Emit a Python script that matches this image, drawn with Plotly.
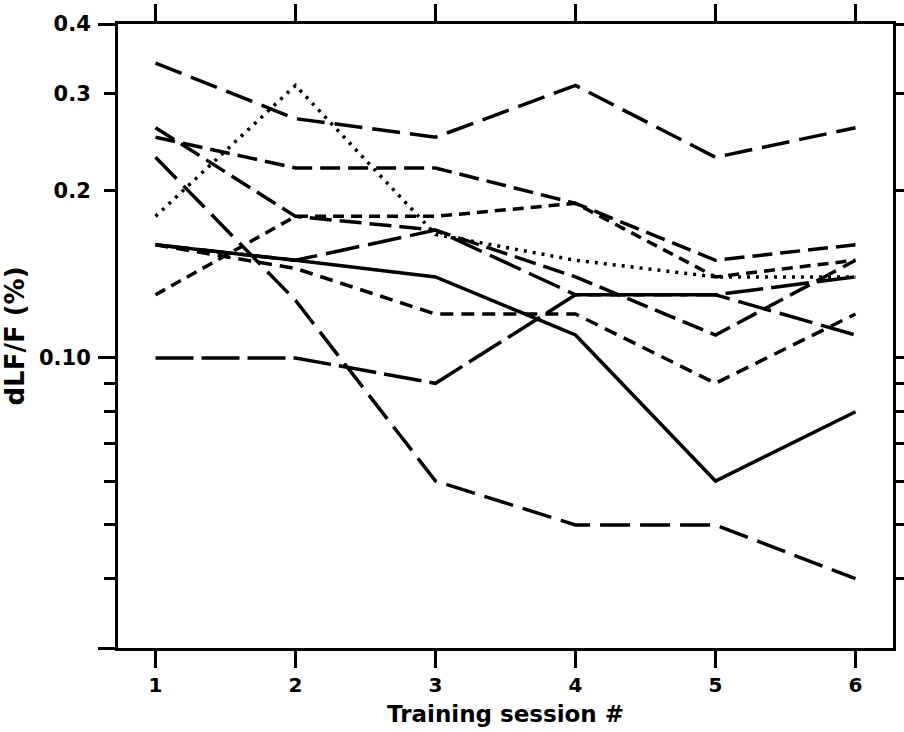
import plotly.graph_objects as go
import math

# ---- data ----
sessions = [1, 2, 3, 4, 5, 6]

subj_a = [0.34, 0.27, 0.25, 0.31, 0.23, 0.26]    # long dash, top
subj_b = [0.26, 0.18, 0.17, 0.14, 0.11, 0.15]    # dash
subj_c = [0.25, 0.22, 0.22, 0.19, 0.15, 0.16]    # medium dash
subj_d = [0.23, 0.127, 0.06, 0.05, 0.05, 0.04]   # long dash, steep fall
subj_e = [0.18, 0.31, 0.167, 0.15, 0.14, 0.14]   # dotted
subj_f = [0.16, 0.15, 0.14, 0.11, 0.06, 0.08]    # solid
subj_g = [0.16, 0.15, 0.17, 0.13, 0.13, 0.11]    # long dash
subj_h = [0.16, 0.145, 0.12, 0.12, 0.09, 0.12]   # short dash
subj_i = [0.13, 0.18, 0.18, 0.19, 0.14, 0.15]    # short dash
subj_j = [0.10, 0.10, 0.09, 0.13, 0.13, 0.14]    # long dash, bottom start

series = [
    (subj_a, "28px,10px"),
    (subj_b, "22px,8px"),
    (subj_c, "20px,8px"),
    (subj_d, "30px,10px"),
    (subj_e, "3px,6px"),
    (subj_f, "solid"),
    (subj_g, "34px,9px"),
    (subj_h, "13px,8px"),
    (subj_i, "11px,7px"),
    (subj_j, "38px,8px"),
]

y_label_vals = [0.1, 0.2, 0.3, 0.4]
y_label_text = ["0.10", "0.2", "0.3", "0.4"]
y_minor_vals = [0.04, 0.05, 0.06, 0.07, 0.08, 0.09]
y_long_vals = [0.03, 0.1, 0.4]
y_min, y_max = 0.03, 0.4

fig = go.Figure()
for vals, dash in series:
    fig.add_trace(go.Scatter(
        x=sessions, y=vals, mode="lines",
        line=dict(color="black", width=3.5, dash=dash),
        showlegend=False, hoverinfo="skip",
    ))
# invisible trace to host the overlay axis with long ticks
fig.add_trace(go.Scatter(x=[sessions[0]], y=[y_label_vals[0]], yaxis="y2",
                         mode="markers", marker=dict(opacity=0),
                         showlegend=False, hoverinfo="skip"))

font_family = "DejaVu Sans"
yr = [math.log10(y_min), math.log10(y_max)]

fig.update_layout(
    width=904, height=732, autosize=False,
    margin=dict(l=118, r=11, t=24, b=84, autoexpand=False),
    paper_bgcolor="white", plot_bgcolor="white",
    font=dict(family=font_family, color="black", size=19),
    xaxis=dict(
        range=[0.732, 6.268], automargin=False,
        tickmode="array", tickvals=sessions,
        ticks="outside", ticklen=17, tickwidth=3, tickcolor="black",
        showline=True, linewidth=3, linecolor="black", mirror="ticks",
        showgrid=False, zeroline=False,
        tickfont=dict(family=font_family, size=20, weight="bold"),
        ticklabelstandoff=0,
        title=dict(text="Training session #",
                   font=dict(family=font_family, size=23, weight="bold"),
                   standoff=10),
    ),
    yaxis=dict(
        type="log", range=yr, automargin=False,
        tickmode="array", tickvals=y_label_vals, ticktext=y_label_text,
        ticks="outside", ticklen=11, tickwidth=3, tickcolor="black",
        minor=dict(tickmode="array", tickvals=y_minor_vals, ticks="outside",
                   ticklen=11, tickwidth=3, tickcolor="black", showgrid=False),
        showline=True, linewidth=3, linecolor="black", mirror="ticks",
        showgrid=False, zeroline=False,
        tickfont=dict(family=font_family, size=21, weight="bold"),
        ticklabelstandoff=9,
        title=dict(text="dLF/F (%)",
                   font=dict(family=font_family, size=26, weight="bold"),
                   standoff=8),
    ),
    yaxis2=dict(
        type="log", range=yr, overlaying="y", side="left", anchor="x",
        automargin=False,
        tickmode="array", tickvals=y_long_vals,
        ticks="outside", ticklen=19, tickwidth=3, tickcolor="black",
        showticklabels=False, showline=False, showgrid=False, zeroline=False,
    ),
)

fig.write_html("out.html")
